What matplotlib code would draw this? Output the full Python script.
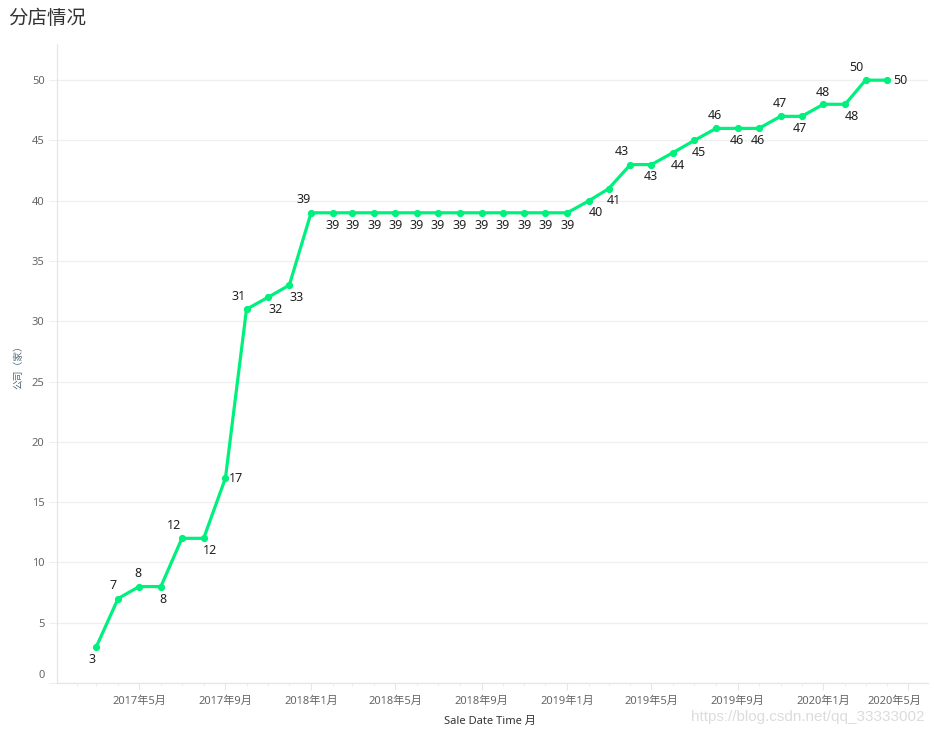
import matplotlib
matplotlib.use("Agg")
import matplotlib.pyplot as plt
import matplotlib.dates as mdates
import matplotlib.transforms as mtransforms
import pandas as pd

plt.rcParams['font.family'] = ['Noto Sans', 'Noto Sans CJK SC', 'DejaVu Sans']

# ---- data ----
months = ["2017-03", "2017-04", "2017-05", "2017-06", "2017-07", "2017-08", "2017-09",
          "2017-10", "2017-11", "2017-12", "2018-01", "2018-02", "2018-03", "2018-04",
          "2018-05", "2018-06", "2018-07", "2018-08", "2018-09", "2018-10", "2018-11",
          "2018-12", "2019-01", "2019-02", "2019-03", "2019-04", "2019-05", "2019-06",
          "2019-07", "2019-08", "2019-09", "2019-10", "2019-11", "2019-12", "2020-01",
          "2020-02", "2020-03", "2020-04"]
companies = [3, 7, 8, 8, 12, 12, 17, 31, 32, 33, 39, 39, 39, 39, 39, 39, 39, 39, 39,
             39, 39, 39, 39, 40, 41, 43, 43, 44, 45, 46, 46, 46, 47, 47, 48, 48, 50, 50]
title = "分店情况"
y_label = "公司（家）"
x_label = "Sale Date Time 月"
watermark = "https://blog.csdn.net/qq_33333002"

# label placement offsets in pixels (dx, dy)
label_offsets = [(-4, -13), (-5, 13), (-1, 13), (2, -13), (-8, 13), (6, -12), (11, 0),
                 (-8, 13), (7, -12), (7, -12), (-7, 13)] + [(0, -13)] * 12 + \
                [(7, -12), (5, -12), (-9, 13), (-1, -12), (5, -13), (5, -12), (-1, 13),
                 (-1, -12), (-1, -12), (-1, 13), (-2, -12), (-1, 12), (7, -12), (-9, 13),
                 (13, 0)]

dates = pd.to_datetime(months)

W, H, DPI = 933, 735, 100
fig = plt.figure(figsize=(W / DPI, H / DPI), dpi=DPI)
ax = fig.add_axes([57 / W, (735 - 683) / H, (928 - 57) / W, (683 - 44) / H])

green = "#00F07E"
ax.plot(dates, companies, color=green, lw=2.3, marker="o", ms=4.2, zorder=3,
        solid_joinstyle="round")

for d, v, (dx, dy) in zip(dates, companies, label_offsets):
    ax.annotate(str(v), (d, v), xytext=(dx * 0.72, dy * 0.72), textcoords="offset points",
                ha="center", va="center", fontsize=9, color="#222222", zorder=4)

ax.set_ylim(0, 53.0)
ax.set_yticks(range(0, 51, 5))
ax.set_xlim(pd.Timestamp("2017-01-04"), pd.Timestamp("2020-05-29"))
ax.xaxis.set_major_locator(mdates.MonthLocator(bymonth=[1, 5, 9]))
ax.xaxis.set_minor_locator(mdates.MonthLocator())
ax.xaxis.set_major_formatter(
    matplotlib.ticker.FuncFormatter(lambda x, p: f"{mdates.num2date(x).year}年{mdates.num2date(x).month}月"))

ax.grid(axis="y", color="#efefef", lw=0.9)
ax.set_axisbelow(True)
for s in ["top", "right"]:
    ax.spines[s].set_visible(False)
for s in ["left", "bottom"]:
    ax.spines[s].set_color("#e6e6e6")
    ax.spines[s].set_linewidth(0.9)
ax.tick_params(axis="y", length=6, color="#efefef", labelsize=8, labelcolor="#666666", pad=3)
ax.tick_params(axis="x", which="major", length=5, color="#e6e6e6", labelsize=8,
               labelcolor="#666666", pad=4)
ax.tick_params(axis="x", which="minor", length=2.5, color="#ececec")

fig.canvas.draw()
xl = ax.get_xticklabels()
if xl:
    last = xl[-1]
    last.set_transform(last.get_transform() + mtransforms.ScaledTranslation(-14 / DPI, 0, fig.dpi_scale_trans))
yl = ax.get_yticklabels()
if yl:
    first = yl[0]
    first.set_transform(first.get_transform() + mtransforms.ScaledTranslation(0, 9 / DPI, fig.dpi_scale_trans))

fig.text(8 / W, 1 - 19 / H, title, fontsize=14, color="#333333", va="center", ha="left",
         family=["Noto Sans CJK SC"])
fig.text(18 / W, 1 - 365 / H, y_label, fontsize=7, color="#4a6a78", rotation=90,
         va="center", ha="center", family=["Noto Sans CJK SC"])
fig.text(490 / W, 1 - 721 / H, x_label, fontsize=8, color="#333333", va="center", ha="center")
fig.text(924 / W, 1 - 717 / H, watermark, fontsize=11, color="#dcdcdc", va="center", ha="right",
         family=["Liberation Sans"])

fig.savefig("out.png", dpi=DPI)
